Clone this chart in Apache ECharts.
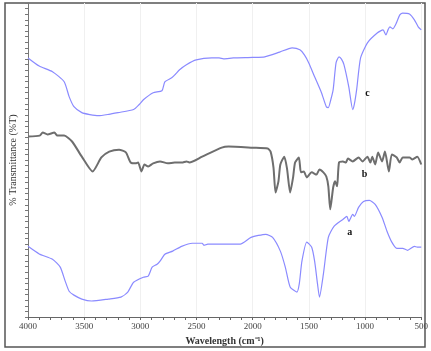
<!DOCTYPE html>
<html>
<head>
<meta charset="utf-8">
<script src="https://cdn.jsdelivr.net/npm/echarts@6/dist/echarts.min.js"></script>
<style>
  html, body { margin: 0; padding: 0; background: #fff; }
  #chart { width: 431px; height: 351px; }
</style>
</head>
<body>
<div id="chart"></div>
<script>
// IR spectra, [wavenumber cm-1, %T in arbitrary offset units]
const curveC = [[4000,92.4],[3900,89.5],[3782,87.5],[3678,83.9],[3634,78.6],[3591,75.0],[3521,72.9],[3450,72.2],[3373,71.8],[3280,72.3],[3199,72.9],[3060,74.0],[3010,75.8],[2973,77.5],[2886,80.0],[2808,80.7],[2782,83.9],[2721,85.3],[2690,86.5],[2651,88.2],[2590,90.0],[2503,91.7],[2364,92.4],[2300,92.4],[2259,92.1],[2172,92.4],[2000,92.6],[1893,92.8],[1760,94.5],[1649,96.0],[1580,95.3],[1540,93.5],[1502,90.7],[1449,85.7],[1388,80.0],[1345,75.0],[1327,74.7],[1305,77.5],[1284,81.1],[1258,90.7],[1232,92.8],[1210,92.0],[1188,90.0],[1145,82.1],[1110,74.0],[1095,76.0],[1075,81.1],[1040,92.4],[979,97.8],[892,101.3],[840,102.4],[814,100.6],[795,102.5],[779,103.5],[753,102.8],[720,105.0],[692,107.7],[666,108.4],[605,108.1],[561,106.0],[527,103.5],[500,102.4]];

const curveB = [[4000,64.4],[3896,64.7],[3869,65.8],[3826,65.1],[3765,65.8],[3739,64.7],[3678,64.7],[3608,62.6],[3521,57.2],[3425,51.9],[3347,56.9],[3277,59.0],[3190,59.7],[3129,58.7],[3086,55.1],[3042,54.8],[3020,55.1],[2990,51.9],[2964,54.4],[2930,53.7],[2886,54.8],[2825,55.5],[2755,54.8],[2694,55.1],[2630,55.1],[2590,55.5],[2564,55.1],[2450,57.2],[2276,60.4],[2215,60.8],[2000,60.4],[1867,60.1],[1841,59.0],[1815,53.3],[1797,44.4],[1771,48.4],[1754,54.4],[1719,57.2],[1695,53.0],[1667,44.4],[1640,50.0],[1623,55.1],[1589,56.9],[1571,51.6],[1545,51.9],[1519,49.8],[1475,51.6],[1432,50.8],[1406,52.6],[1371,51.6],[1345,50.1],[1327,46.6],[1310,38.4],[1284,46.2],[1267,48.4],[1249,46.6],[1232,55.1],[1197,55.5],[1171,55.1],[1153,56.5],[1110,55.5],[1058,56.9],[1023,55.5],[979,57.2],[953,55.1],[936,57.2],[910,54.4],[884,58.7],[849,55.5],[823,59.0],[788,51.9],[762,58.0],[718,56.9],[692,55.1],[666,56.9],[605,56.9],[579,56.2],[535,57.2],[500,54.4]];

const curveA = [[4000,25.2],[3900,22.5],[3782,20.6],[3713,17.8],[3669,12.8],[3634,9.2],[3591,7.8],[3521,6.4],[3434,5.7],[3286,6.4],[3173,7.1],[3112,8.9],[3060,12.4],[2973,14.2],[2930,14.6],[2895,17.8],[2851,18.8],[2825,19.9],[2782,22.4],[2712,23.5],[2633,25.2],[2538,26.3],[2450,26.3],[2433,25.6],[2400,26.0],[2346,26.0],[2111,26.0],[2015,28.4],[1884,29.5],[1823,28.4],[1754,23.5],[1710,17.8],[1667,10.7],[1606,8.9],[1585,12.0],[1562,19.9],[1519,26.7],[1475,24.9],[1449,19.9],[1423,11.7],[1406,7.1],[1371,15.3],[1327,28.4],[1275,32.4],[1197,34.8],[1162,35.9],[1145,34.1],[1110,36.6],[1095,35.9],[1058,39.1],[1014,41.2],[962,41.6],[910,40.2],[849,35.6],[805,30.6],[762,26.7],[718,24.5],[665,24.5],[622,23.8],[561,25.2],[535,24.9],[500,24.9]];

const curveNames = ['c', 'b', 'a'];
const labelPos = [[979, 79.6], [1005, 50.8], [1136, 30.2]];

const chart = echarts.init(document.getElementById('chart'));
const serif = 'Liberation Serif';

function spectrum(name, data, color, width, labelAt) {
  return {
    name: name,
    type: 'line',
    data: data,
    showSymbol: false,
    smooth: 0.2,
    lineStyle: { color: color, width: width },
    markPoint: {
      symbol: 'circle',
      symbolSize: 0,
      data: [{ coord: labelAt }],
      label: {
        show: true,
        position: 'inside',
        formatter: name,
        color: '#111',
        fontFamily: serif,
        fontWeight: 'bold',
        fontSize: 10
      }
    }
  };
}

chart.setOption({
  animation: false,
  grid: { left: 25, right: 6, top: 3, bottom: 33 },
  xAxis: {
    type: 'value',
    inverse: true,
    min: 500,
    max: 4000,
    interval: 500,
    name: 'Wavelength (cm⁻¹)',
    nameLocation: 'middle',
    nameGap: 19,
    nameTextStyle: { fontFamily: serif, fontSize: 10, fontWeight: 'bold', color: '#333' },
    axisLine: { lineStyle: { color: '#666' } },
    axisTick: { length: 3, lineStyle: { color: '#666' } },
    minorTick: { show: true, splitNumber: 5, length: 3, lineStyle: { color: '#666' } },
    axisLabel: { fontFamily: serif, fontSize: 9, color: '#444', margin: 5, formatter: v => String(v) },
    splitLine: { show: true, lineStyle: { color: '#f0f0f0' } }
  },
  yAxis: {
    type: 'value',
    min: 0,
    max: 112,
    interval: 2,
    name: '% Transmittance (%T)',
    nameLocation: 'middle',
    nameGap: 10,
    nameTextStyle: { fontFamily: serif, fontSize: 10, color: '#333' },
    axisLine: { show: true, lineStyle: { color: '#777' } },
    axisTick: { show: true, length: 3, lineStyle: { color: '#777' } },
    axisLabel: { show: false },
    splitLine: { show: false }
  },
  graphic: [{
    type: 'rect',
    shape: { x: 5, y: 3, width: 420, height: 344 },
    style: { fill: 'none', stroke: '#555', lineWidth: 1.5 },
    silent: true
  }],
  series: [
    spectrum(curveNames[0], curveC, '#8a8aff', 1.2, labelPos[0]),
    spectrum(curveNames[1], curveB, '#6e6e6e', 2, labelPos[1]),
    spectrum(curveNames[2], curveA, '#8a8aff', 1.2, labelPos[2])
  ]
});
</script>
</body>
</html>
